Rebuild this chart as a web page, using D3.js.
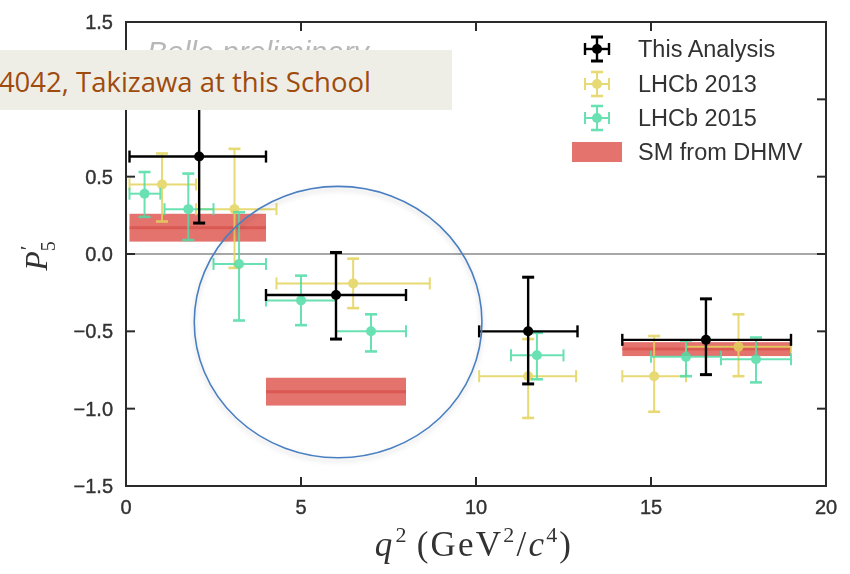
<!DOCTYPE html>
<html>
<head>
<meta charset="utf-8">
<script src="https://cdn.jsdelivr.net/npm/d3@7"></script>
<style>
  html, body { margin: 0; padding: 0; background: #fff; }
  svg { display: block; }
</style>
</head>
<body>
<svg id="chart" width="850" height="574"></svg>
<script>
// ---- P5' measurements versus q^2 ----
// Belle (this analysis)
const belleX     = [2.09, 6.00, 11.49, 16.57];
const belleXLo   = [0.10, 4.00, 10.09, 14.18];
const belleXHi   = [4.00, 8.00, 12.90, 19.00];
const belleY     = [0.63, -0.265, -0.50, -0.555];
const belleYLo   = [0.20, -0.55, -0.84, -0.78];
const belleYHi   = [1.05, 0.01, -0.15, -0.29];

// LHCb 2013
const lhcb13X    = [1.03, 3.10, 6.49, 11.49, 15.09, 17.50];
const lhcb13XLo  = [0.10, 2.00, 4.30, 10.09, 14.18, 16.00];
const lhcb13XHi  = [2.00, 4.30, 8.68, 12.86, 16.00, 19.00];
const lhcb13Y    = [0.45, 0.29, -0.19, -0.79, -0.79, -0.60];
const lhcb13YLo  = [0.21, -0.09, -0.35, -1.06, -1.02, -0.79];
const lhcb13YHi  = [0.65, 0.68, -0.03, -0.55, -0.53, -0.39];

// LHCb 2015
const lhcb15X    = [0.53, 1.78, 3.23, 5.00, 7.00, 11.74, 16.00, 18.00];
const lhcb15XLo  = [0.10, 1.10, 2.50, 4.00, 6.00, 11.00, 15.00, 17.00];
const lhcb15XHi  = [0.98, 2.50, 4.00, 6.00, 8.00, 12.50, 17.00, 19.00];
const lhcb15Y    = [0.39, 0.29, -0.065, -0.30, -0.50, -0.655, -0.665, -0.68];
const lhcb15YLo  = [0.24, 0.09, -0.43, -0.46, -0.63, -0.81, -0.79, -0.83];
const lhcb15YHi  = [0.53, 0.52, 0.27, -0.14, -0.39, -0.51, -0.56, -0.54];

// SM prediction (DHMV) bands
const smXLo      = [0.10, 4.00, 14.18];
const smXHi      = [4.00, 8.00, 19.00];
const smYLo      = [0.08, -0.98, -0.66];
const smYHi      = [0.26, -0.80, -0.57];

// axis ticks (the 1.0 label sits under the banner, so it is left unlabelled)
const xTicks     = [0, 5, 10, 15, 20];
const yTicks     = [1.5, 1.0, 0.5, 0.0, -0.5, -1.0, -1.5];
const yTickText  = ["1.5", "", "0.5", "0.0", "\u22120.5", "\u22121.0", "\u22121.5"];

// highlight ring around the 4-8 GeV^2 bin (centre and radii in data units)
const ringCentre = [6.06, -0.44];
const ringRadii  = [4.11, 0.877];

const legendLabels = ["This Analysis", "LHCb 2013", "LHCb 2015", "SM from DHMV"];

// ---- layout ----
const plot = { left: 126, right: 826, top: 22, bottom: 486 };

const svg = d3.select("#chart");
const x = d3.scaleLinear().domain([0, 20]).range([plot.left, plot.right]);
const y = d3.scaleLinear().domain([-1.5, 1.5]).range([plot.bottom, plot.top]);

const defs = svg.append("defs");
const shadow = defs.append("filter").attr("id", "ringShadow")
  .attr("x", "-10%").attr("y", "-10%").attr("width", "120%").attr("height", "125%");
shadow.append("feDropShadow").attr("dx", 0).attr("dy", 3).attr("stdDeviation", 2.5)
  .attr("flood-color", "#000").attr("flood-opacity", 0.18);
const soft = defs.append("filter").attr("id", "soft");
soft.append("feGaussianBlur").attr("stdDeviation", 0.45);

const g = svg.append("g").attr("filter", "url(#soft)");

// zero line
g.append("line")
  .attr("x1", x(0)).attr("x2", x(20))
  .attr("y1", y(0)).attr("y2", y(0))
  .attr("stroke", "#8a8a8a").attr("stroke-width", 1.5);

// SM bands
const smColor = "#e0605a";
const bands = g.append("g");
smXLo.forEach((lo, i) => {
  bands.append("rect")
    .attr("x", x(lo)).attr("width", x(smXHi[i]) - x(lo))
    .attr("y", y(smYHi[i])).attr("height", y(smYLo[i]) - y(smYHi[i]))
    .attr("fill", smColor).attr("fill-opacity", 0.88);
  const mid = (smYLo[i] + smYHi[i]) / 2;
  bands.append("line")
    .attr("x1", x(lo)).attr("x2", x(smXHi[i]))
    .attr("y1", y(mid)).attr("y2", y(mid))
    .attr("stroke", "#d2433c").attr("stroke-width", 3).attr("stroke-opacity", 0.55);
});

// error-bar series
function drawSeries(cx, xlo, xhi, cy, ylo, yhi, color, lw, capW, r, opacity) {
  const s = g.append("g").attr("opacity", opacity);
  cx.forEach((v, i) => {
    const px = x(v), py = y(cy[i]);
    s.append("line").attr("x1", x(xlo[i])).attr("x2", x(xhi[i]))
      .attr("y1", py).attr("y2", py)
      .attr("stroke", color).attr("stroke-width", lw);
    s.append("line").attr("x1", px).attr("x2", px)
      .attr("y1", y(ylo[i])).attr("y2", y(yhi[i]))
      .attr("stroke", color).attr("stroke-width", lw);
    [xlo[i], xhi[i]].forEach(xv => {
      s.append("line").attr("x1", x(xv)).attr("x2", x(xv))
        .attr("y1", py - capW).attr("y2", py + capW)
        .attr("stroke", color).attr("stroke-width", lw);
    });
    [ylo[i], yhi[i]].forEach(yv => {
      s.append("line").attr("x1", px - capW).attr("x2", px + capW)
        .attr("y1", y(yv)).attr("y2", y(yv))
        .attr("stroke", color).attr("stroke-width", lw + 0.6);
    });
    s.append("circle").attr("cx", px).attr("cy", py).attr("r", r).attr("fill", color);
  });
}

const col13 = "#e3d35c", col15 = "#4fdca6", colBelle = "#000";
drawSeries(lhcb13X, lhcb13XLo, lhcb13XHi, lhcb13Y, lhcb13YLo, lhcb13YHi, col13, 2, 6, 5, 0.85);
drawSeries(lhcb15X, lhcb15XLo, lhcb15XHi, lhcb15Y, lhcb15YLo, lhcb15YHi, col15, 2, 6, 5, 0.85);
drawSeries(belleX, belleXLo, belleXHi, belleY, belleYLo, belleYHi, colBelle, 2.4, 6, 5, 1);

// frame
g.append("rect")
  .attr("x", plot.left).attr("y", plot.top)
  .attr("width", plot.right - plot.left).attr("height", plot.bottom - plot.top)
  .attr("fill", "none").attr("stroke", "#2b2b2b").attr("stroke-width", 2);

// inward ticks, all four sides
const tickLen = 9;
const ax = g.append("g");
xTicks.filter(t => t > 0 && t < 20).forEach(t => {
  ax.append("line").attr("x1", x(t)).attr("x2", x(t))
    .attr("y1", plot.bottom).attr("y2", plot.bottom - tickLen)
    .attr("stroke", "#2b2b2b").attr("stroke-width", 2);
  ax.append("line").attr("x1", x(t)).attr("x2", x(t))
    .attr("y1", plot.top).attr("y2", plot.top + tickLen)
    .attr("stroke", "#2b2b2b").attr("stroke-width", 2);
});
yTicks.filter(t => t > -1.5 && t < 1.5).forEach(t => {
  ax.append("line").attr("x1", plot.left).attr("x2", plot.left + tickLen)
    .attr("y1", y(t)).attr("y2", y(t))
    .attr("stroke", "#2b2b2b").attr("stroke-width", 2);
  ax.append("line").attr("x1", plot.right).attr("x2", plot.right - tickLen)
    .attr("y1", y(t)).attr("y2", y(t))
    .attr("stroke", "#2b2b2b").attr("stroke-width", 2);
});

// tick labels
const tickFont = "'Liberation Sans', Arial, sans-serif";
g.append("g").selectAll("text").data(xTicks).join("text")
  .attr("x", d => x(d)).attr("y", plot.bottom + 28)
  .attr("text-anchor", "middle")
  .attr("font-family", tickFont).attr("font-size", 20).attr("fill", "#333")
  .attr("stroke", "#333").attr("stroke-width", 0.4)
  .text(d => d);
g.append("g").selectAll("text")
  .data(yTicks.map((v, i) => ({ v, t: yTickText[i] })).filter(d => d.t !== ""))
  .join("text")
  .attr("x", plot.left - 13).attr("y", d => y(d.v) + 7)
  .attr("text-anchor", "end")
  .attr("font-family", tickFont).attr("font-size", 20).attr("fill", "#333")
  .attr("stroke", "#333").attr("stroke-width", 0.4)
  .text(d => d.t);

// axis titles
const serif = "'Liberation Serif', 'Times New Roman', serif";
const xt = g.append("text")
  .attr("x", 474).attr("y", 556)
  .attr("text-anchor", "middle")
  .attr("font-family", serif).attr("font-size", 35).attr("fill", "#333")
  .attr("letter-spacing", 2.2);
xt.append("tspan").attr("font-style", "italic").text("q");
xt.append("tspan").attr("font-size", 22).attr("dy", -14).attr("dx", 1).text("2");
xt.append("tspan").attr("dy", 14).attr("dx", 8).text("(GeV");
xt.append("tspan").attr("font-size", 22).attr("dy", -14).text("2");
xt.append("tspan").attr("dy", 14).text("/");
xt.append("tspan").attr("font-style", "italic").text("c");
xt.append("tspan").attr("font-size", 22).attr("dy", -14).text("4");
xt.append("tspan").attr("dy", 14).text(")");

const yt = g.append("text")
  .attr("transform", `translate(47,${y(0) + 2}) rotate(-90)`)
  .attr("text-anchor", "middle")
  .attr("font-family", serif).attr("font-size", 32).attr("fill", "#333");
yt.append("tspan").attr("font-style", "italic").text("P");
yt.append("tspan").attr("font-size", 22).attr("dy", -12).attr("dx", 1).text("\u2032");
yt.append("tspan").attr("font-size", 20).attr("dy", 20).attr("dx", -6).text("5");

// watermark
g.append("text")
  .attr("x", 147).attr("y", 62)
  .attr("font-family", tickFont).attr("font-style", "italic")
  .attr("font-size", 30).attr("fill", "#b8b8b8")
  .text("Belle preliminary");

// legend
const leg = g.append("g");
const legY = [49, 84, 118, 152];
const legCols = [colBelle, col13, col15];
const iconX = 597, textX = 638;
legCols.forEach((c, i) => {
  const cy = legY[i];
  const lg = leg.append("g").attr("opacity", i === 0 ? 1 : 0.85);
  const lw = i === 0 ? 2.4 : 2;
  lg.append("line").attr("x1", iconX - 12).attr("x2", iconX + 12).attr("y1", cy).attr("y2", cy)
    .attr("stroke", c).attr("stroke-width", lw);
  lg.append("line").attr("x1", iconX).attr("x2", iconX).attr("y1", cy - 12).attr("y2", cy + 12)
    .attr("stroke", c).attr("stroke-width", lw);
  [-12, 12].forEach(o => {
    lg.append("line").attr("x1", iconX + o).attr("x2", iconX + o).attr("y1", cy - 6).attr("y2", cy + 6)
      .attr("stroke", c).attr("stroke-width", lw);
    lg.append("line").attr("x1", iconX - 6).attr("x2", iconX + 6).attr("y1", cy + o).attr("y2", cy + o)
      .attr("stroke", c).attr("stroke-width", lw + 0.6);
  });
  lg.append("circle").attr("cx", iconX).attr("cy", cy).attr("r", 5).attr("fill", c);
});
leg.append("rect").attr("x", 572).attr("y", legY[3] - 10).attr("width", 50).attr("height", 20)
  .attr("fill", smColor).attr("fill-opacity", 0.88);
leg.selectAll("text.lbl").data(legendLabels).join("text")
  .attr("class", "lbl")
  .attr("x", textX).attr("y", (d, i) => legY[i] + 8)
  .attr("font-family", tickFont).attr("font-size", 23.5).attr("fill", "#333")
  .text(d => d);

// highlight ring
svg.append("ellipse")
  .attr("cx", x(ringCentre[0])).attr("cy", y(ringCentre[1]))
  .attr("rx", x(ringCentre[0] + ringRadii[0]) - x(ringCentre[0]))
  .attr("ry", y(ringCentre[1]) - y(ringCentre[1] + ringRadii[1]))
  .attr("fill", "none").attr("stroke", "#4a7fc1").attr("stroke-width", 1.6)
  .attr("filter", "url(#ringShadow)");

// reference banner
svg.append("rect").attr("x", 0).attr("y", 50).attr("width", 452).attr("height", 60)
  .attr("fill", "#efeee6");
svg.append("text")
  .attr("x", 371).attr("y", 92)
  .attr("text-anchor", "end")
  .attr("font-family", "'Open Sans', Lato, sans-serif").attr("font-size", 27.5)
  .attr("fill", "#9e4b0e")
  .text("4042, Takizawa at this School");
</script>
</body>
</html>
